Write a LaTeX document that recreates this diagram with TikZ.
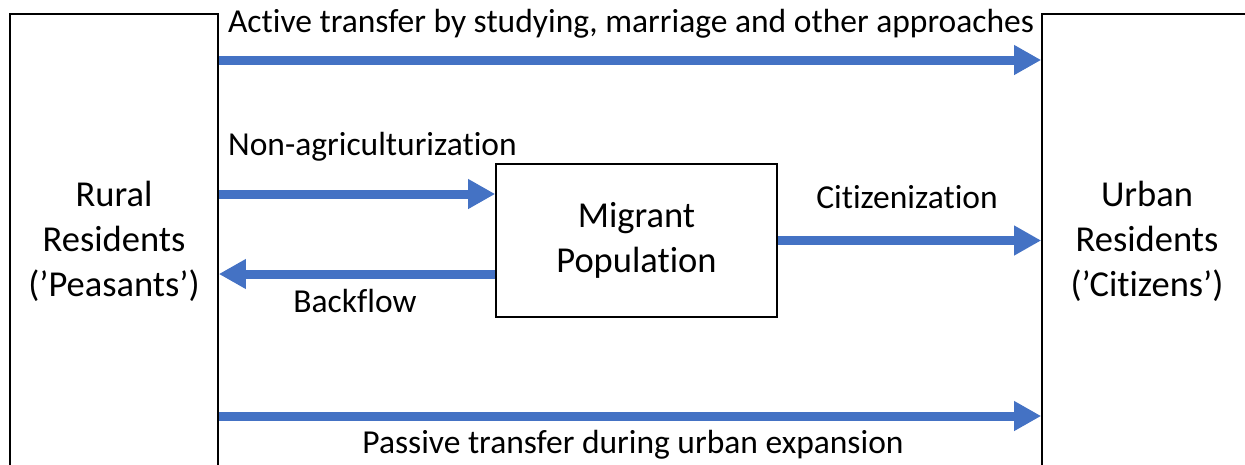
\documentclass[tikz,border=0pt]{standalone}
\usepackage{fontspec}
\setmainfont[Ligatures={NoCommon}]{Carlito}
\usetikzlibrary{arrows.meta}
\definecolor{flowblue}{HTML}{4472C4}
\tikzset{
	group/.style={draw,line width=1.6pt,rectangle,align=center,inner sep=0pt,font=\fontsize{36.5}{45}\selectfont},
	flow/.style={draw=flowblue,line width=9pt,arrows={-Triangle[length=27pt,width=28pt,flowblue]}},
	lbl/.style={font=\fontsize{33.5}{40}\selectfont,inner sep=0pt,anchor=base}
	}
\begin{document}
\begin{tikzpicture}[x=1pt,y=-1pt]
      \useasboundingbox (0,0) rectangle (1245,464);
      \clip (0,0) rectangle (1245,464);
      % population groups
      \node[group,minimum width=208pt,minimum height=454pt] (rural) at (114,241) {Rural\\Residents\\(’Peasants’)};
      \node[group,minimum width=210pt,minimum height=454pt] (urban) at (1147,241) {Urban\\Residents\\(’Citizens’)};
      \node[group,minimum width=281pt,minimum height=153pt] (migrant) at (636.5,240.5) {Migrant\\Population};
      % flows
      \draw[flow] (rural.east |- 0,60) -- (urban.west |- 0,60);
      \draw[flow] (rural.east |- 0,194) -- (migrant.west |- 0,194);
      \draw[flow] (migrant.west |- 0,274) -- (rural.east |- 0,274);
      \draw[flow] (migrant.east) -- (urban.west |- migrant.east);
      \draw[flow] (rural.east |- 0,416) -- (urban.west |- 0,416);
      % labels
      \node[lbl] (active) at (631,32) {Active transfer by studying, marriage and other approaches};
      \node[lbl,anchor=base west] (nonagri) at (228,155) {Non-agriculturization};
      \node[lbl] (citizen) at (907,208) {Citizenization};
      \node[lbl] (backflow) at (355,312) {Backflow};
      \node[lbl] (passive) at (633,453) {Passive transfer during urban expansion};
\end{tikzpicture}
\end{document}
